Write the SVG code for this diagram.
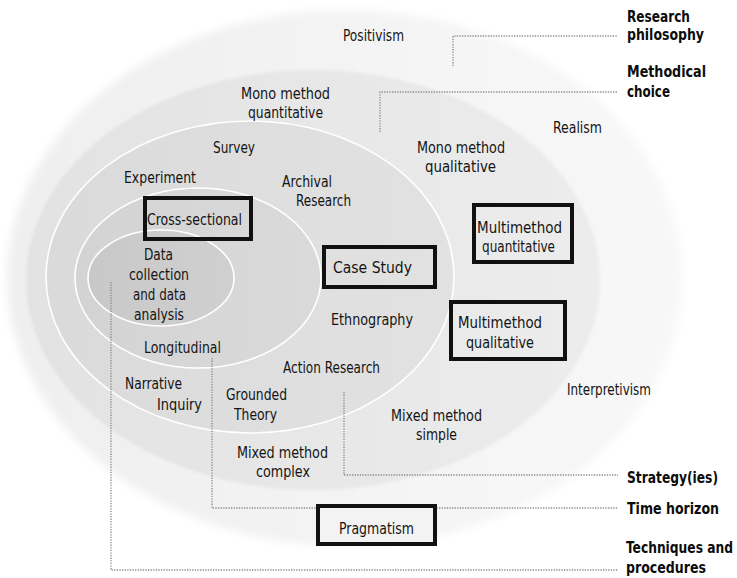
<svg xmlns="http://www.w3.org/2000/svg" width="737" height="578" viewBox="0 0 737 578">
  <defs>
    <style>
      .t { font-family: "Liberation Sans Narrow", "DejaVu Sans Condensed", "Liberation Sans", Arial, sans-serif; font-size: 16.5px; fill: #141414; }
      .b { font-family: "Liberation Sans Narrow", "DejaVu Sans Condensed", "Liberation Sans", Arial, sans-serif; font-size: 16px; font-weight: bold; fill: #0c0c0c; }
      .box { fill: none; stroke: #111; stroke-width: 4; }
      .dot { fill: none; stroke: #8a8a8a; stroke-width: 1.3; stroke-dasharray: 1.3 1.3; }
      .ring { stroke: #ffffff; stroke-width: 1.6; }
    </style>
    <linearGradient id="g1" x1="0" y1="0" x2="1" y2="0">
      <stop offset="0" stop-color="#efefef"/>
      <stop offset="1" stop-color="#f8f8f8"/>
    </linearGradient>
    <linearGradient id="g2" x1="0" y1="0" x2="1" y2="0">
      <stop offset="0" stop-color="#e2e2e2"/>
      <stop offset="1" stop-color="#ececec"/>
    </linearGradient>
    <linearGradient id="g3" x1="0" y1="0" x2="1" y2="0">
      <stop offset="0" stop-color="#dadada"/>
      <stop offset="1" stop-color="#e2e2e2"/>
    </linearGradient>
    <linearGradient id="g4" x1="0" y1="0" x2="1" y2="0">
      <stop offset="0" stop-color="#d3d3d3"/>
      <stop offset="1" stop-color="#dadada"/>
    </linearGradient>
    <linearGradient id="g5" x1="0" y1="0" x2="1" y2="0">
      <stop offset="0" stop-color="#c8c8c8"/>
      <stop offset="1" stop-color="#d0d0d0"/>
    </linearGradient>
    <filter id="soft" x="-5%" y="-5%" width="110%" height="110%">
      <feGaussianBlur stdDeviation="4"/>
    </filter>
    <filter id="soft2" x="-5%" y="-5%" width="110%" height="110%">
      <feGaussianBlur stdDeviation="1.5"/>
    </filter>
  </defs>

  <rect width="737" height="578" fill="#ffffff"/>

  <!-- onion layers, outermost first -->
  <g id="layers">
    <ellipse id="layer-philosophy" cx="345" cy="278" rx="338" ry="268" fill="url(#g1)" filter="url(#soft)"/>
    <ellipse id="layer-choice" cx="313" cy="280" rx="287" ry="210" fill="url(#g2)" filter="url(#soft2)"/>
    <ellipse id="layer-strategy" class="ring" cx="250" cy="277" rx="204" ry="156" fill="url(#g3)"/>
    <ellipse id="layer-time" class="ring" cx="198" cy="278" rx="123" ry="90" fill="url(#g4)"/>
    <ellipse id="layer-techniques" class="ring" cx="161" cy="278" rx="73" ry="48" fill="url(#g5)"/>
  </g>

  <!-- dotted leader lines from each layer to its caption -->
  <g id="connectors">
    <path class="dot" d="M453 66 V36 H618"/>
    <path class="dot" d="M380 132 V92 H618"/>
    <path class="dot" d="M344 392 V475 H618"/>
    <path class="dot" d="M212 358 V508 H618"/>
    <path class="dot" d="M111 282 V570 H618"/>
  </g>

  <!-- research philosophy -->
  <g id="positivism"><text class="t" x="343" y="41" textLength="61" lengthAdjust="spacingAndGlyphs">Positivism</text></g>
  <g id="realism"><text class="t" x="553" y="133" textLength="49" lengthAdjust="spacingAndGlyphs">Realism</text></g>
  <g id="interpretivism"><text class="t" x="567" y="395" textLength="84" lengthAdjust="spacingAndGlyphs">Interpretivism</text></g>
  <g id="pragmatism">
    <rect class="box" x="318" y="506" width="117" height="38" style="fill:#f3f3f3"/>
    <text class="t" x="339" y="534" textLength="75" lengthAdjust="spacingAndGlyphs">Pragmatism</text>
  </g>

  <!-- methodical choice -->
  <g id="mono-quant">
    <text class="t" x="241" y="99" textLength="89" lengthAdjust="spacingAndGlyphs">Mono method</text>
    <text class="t" x="248" y="118" textLength="75" lengthAdjust="spacingAndGlyphs">quantitative</text>
  </g>
  <g id="mono-qual">
    <text class="t" x="417" y="153" textLength="88" lengthAdjust="spacingAndGlyphs">Mono method</text>
    <text class="t" x="425" y="172" textLength="71" lengthAdjust="spacingAndGlyphs">qualitative</text>
  </g>
  <g id="multi-quant">
    <rect class="box" x="474" y="205" width="98" height="57"/>
    <text class="t" x="477" y="233" textLength="85" lengthAdjust="spacingAndGlyphs">Multimethod</text>
    <text class="t" x="482" y="252" textLength="73" lengthAdjust="spacingAndGlyphs">quantitative</text>
  </g>
  <g id="multi-qual">
    <rect class="box" x="451" y="302" width="114" height="57"/>
    <text class="t" x="458" y="328" textLength="84" lengthAdjust="spacingAndGlyphs">Multimethod</text>
    <text class="t" x="466" y="348" textLength="68" lengthAdjust="spacingAndGlyphs">qualitative</text>
  </g>
  <g id="mixed-simple">
    <text class="t" x="391" y="421" textLength="91" lengthAdjust="spacingAndGlyphs">Mixed method</text>
    <text class="t" x="416" y="440" textLength="41" lengthAdjust="spacingAndGlyphs">simple</text>
  </g>
  <g id="mixed-complex">
    <text class="t" x="237" y="458" textLength="91" lengthAdjust="spacingAndGlyphs">Mixed method</text>
    <text class="t" x="256" y="477" textLength="54" lengthAdjust="spacingAndGlyphs">complex</text>
  </g>

  <!-- strategies -->
  <g id="survey"><text class="t" x="213" y="153" textLength="42" lengthAdjust="spacingAndGlyphs">Survey</text></g>
  <g id="experiment"><text class="t" x="124" y="183" textLength="72" lengthAdjust="spacingAndGlyphs">Experiment</text></g>
  <g id="archival">
    <text class="t" x="282" y="187" textLength="50" lengthAdjust="spacingAndGlyphs">Archival</text>
    <text class="t" x="296" y="206" textLength="55" lengthAdjust="spacingAndGlyphs">Research</text>
  </g>
  <g id="case-study">
    <rect class="box" x="324" y="247" width="111" height="40"/>
    <text class="t" x="333" y="273" textLength="79" lengthAdjust="spacingAndGlyphs">Case Study</text>
  </g>
  <g id="ethnography"><text class="t" x="331" y="325" textLength="82" lengthAdjust="spacingAndGlyphs">Ethnography</text></g>
  <g id="action-research"><text class="t" x="283" y="373" textLength="97" lengthAdjust="spacingAndGlyphs">Action Research</text></g>
  <g id="grounded-theory">
    <text class="t" x="226" y="400" textLength="61" lengthAdjust="spacingAndGlyphs">Grounded</text>
    <text class="t" x="234" y="420" textLength="43" lengthAdjust="spacingAndGlyphs">Theory</text>
  </g>
  <g id="narrative-inquiry">
    <text class="t" x="125" y="389" textLength="57" lengthAdjust="spacingAndGlyphs">Narrative</text>
    <text class="t" x="157" y="410" textLength="45" lengthAdjust="spacingAndGlyphs">Inquiry</text>
  </g>

  <!-- time horizon -->
  <g id="cross-sectional">
    <rect class="box" x="145" y="198" width="106" height="41"/>
    <text class="t" x="147" y="225" textLength="95" lengthAdjust="spacingAndGlyphs">Cross-sectional</text>
  </g>
  <g id="longitudinal"><text class="t" x="144" y="353" textLength="77" lengthAdjust="spacingAndGlyphs">Longitudinal</text></g>

  <!-- techniques and procedures -->
  <g id="data-collection">
    <text class="t" x="144" y="260" textLength="29" lengthAdjust="spacingAndGlyphs">Data</text>
    <text class="t" x="129" y="280" textLength="60" lengthAdjust="spacingAndGlyphs">collection</text>
    <text class="t" x="133" y="300" textLength="53" lengthAdjust="spacingAndGlyphs">and data</text>
    <text class="t" x="134" y="320" textLength="50" lengthAdjust="spacingAndGlyphs">analysis</text>
  </g>

  <!-- layer captions -->
  <g id="cap-philosophy">
    <text class="b" x="627" y="22" textLength="63" lengthAdjust="spacingAndGlyphs">Research</text>
    <text class="b" x="627" y="40" textLength="77" lengthAdjust="spacingAndGlyphs">philosophy</text>
  </g>
  <g id="cap-choice">
    <text class="b" x="627" y="77" textLength="79" lengthAdjust="spacingAndGlyphs">Methodical</text>
    <text class="b" x="627" y="97" textLength="43" lengthAdjust="spacingAndGlyphs">choice</text>
  </g>
  <g id="cap-strategy"><text class="b" x="627" y="483" textLength="91" lengthAdjust="spacingAndGlyphs">Strategy(ies)</text></g>
  <g id="cap-time"><text class="b" x="627" y="514" textLength="92" lengthAdjust="spacingAndGlyphs">Time horizon</text></g>
  <g id="cap-techniques">
    <text class="b" x="626" y="553" textLength="107" lengthAdjust="spacingAndGlyphs">Techniques and</text>
    <text class="b" x="626" y="573" textLength="80" lengthAdjust="spacingAndGlyphs">procedures</text>
  </g>
</svg>
